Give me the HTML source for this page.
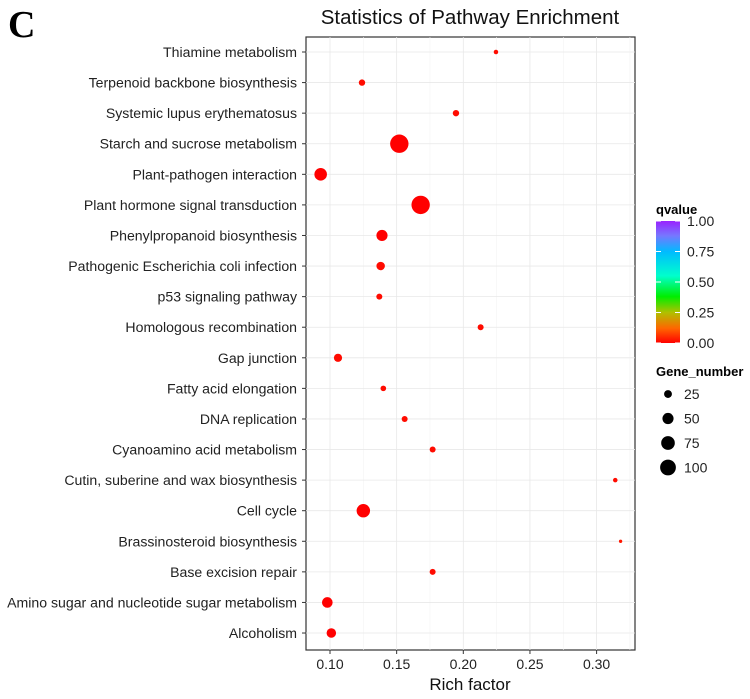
<!DOCTYPE html>
<html><head><meta charset="utf-8"><style>
body{margin:0;background:#fff;}
svg text{font-family:"Liberation Sans",sans-serif;}
</style></head><body>
<svg id="chart" width="750" height="694" xmlns="http://www.w3.org/2000/svg">
<defs>
<linearGradient id="qgrad" x1="0" y1="1" x2="0" y2="0">
<stop offset="0" stop-color="#ff0000"/><stop offset="0.12" stop-color="#ff6600"/><stop offset="0.25" stop-color="#b0c000"/><stop offset="0.38" stop-color="#00ee00"/><stop offset="0.55" stop-color="#00ffcc"/><stop offset="0.75" stop-color="#00bbff"/><stop offset="0.88" stop-color="#7777ff"/><stop offset="1" stop-color="#9922ff"/>
</linearGradient>
</defs>
<text x="8" y="37" font-weight="bold" font-size="38" style="font-family:'Liberation Serif',serif">C</text>
<text x="470" y="24" text-anchor="middle" font-size="20.5" fill="#111">Statistics of Pathway Enrichment</text>
<rect x="306" y="37" width="329" height="613" fill="#fff" stroke="#333" stroke-width="1.2"/>
<g id="grid"></g><g id="points"></g><g id="axes"></g>
<text x="470" y="690" text-anchor="middle" font-size="17" fill="#111">Rich factor</text>
<text x="656" y="214" font-size="13" font-weight="bold">qvalue</text>
<rect x="656" y="221" width="24" height="122" fill="url(#qgrad)"/>
<g id="qleg"></g>
<text x="656" y="376" font-size="13" font-weight="bold">Gene_number</text>
<g id="sleg"></g>
</svg>
<script>
const pathways=["Thiamine metabolism","Terpenoid backbone biosynthesis","Systemic lupus erythematosus","Starch and sucrose metabolism","Plant-pathogen interaction","Plant hormone signal transduction","Phenylpropanoid biosynthesis","Pathogenic Escherichia coli infection","p53 signaling pathway","Homologous recombination","Gap junction","Fatty acid elongation","DNA replication","Cyanoamino acid metabolism","Cutin, suberine and wax biosynthesis","Cell cycle","Brassinosteroid biosynthesis","Base excision repair","Amino sugar and nucleotide sugar metabolism","Alcoholism"];
const richFactor=[0.2245,0.124,0.1945,0.152,0.093,0.168,0.139,0.138,0.137,0.213,0.106,0.140,0.156,0.177,0.314,0.125,0.318,0.177,0.098,0.101];
const geneNumber=[9,18,18,150,70,150,55,32,16,16,30,14,16,16,9,80,5,16,50,40];
const qvalue=[0.01,0.01,0.01,0,0,0,0,0.01,0.01,0.01,0.01,0.01,0.01,0.01,0.01,0,0.02,0.01,0,0];
const xTicks=[0.10,0.15,0.20,0.25,0.30];
const qTicks=[0,0.25,0.5,0.75,1];
const sizeTicks=[25,50,75,100];
const NS="http://www.w3.org/2000/svg";
const X=v=>330+(v-0.10)*1333;
const Y=i=>52+i*30.58;
const R=n=>0.75*Math.sqrt(n);
function qColor(q){const h=Math.min(q,1)*270;return `hsl(${h},100%,50%)`;}
function mk(t,a,p){const e=document.createElementNS(NS,t);for(const k in a)e.setAttribute(k,a[k]);p.appendChild(e);return e;}
const grid=document.getElementById('grid'),pts=document.getElementById('points'),ax=document.getElementById('axes');
for(let i=0;i<xTicks.length-1;i++){const m=(xTicks[i]+xTicks[i+1])/2;const l=mk('line',{x1:X(m),x2:X(m),y1:37,y2:650,stroke:'#f3f3f3','stroke-width':0.6},grid);}
mk('line',{x1:X(0.325),x2:X(0.325),y1:37,y2:650,stroke:'#f3f3f3','stroke-width':0.6},grid);
xTicks.forEach(t=>{const l=mk('line',{x1:X(t),x2:X(t),y1:37,y2:650,stroke:'#e8e8e8','stroke-width':0.8},grid);
const tk=mk('line',{x1:X(t),x2:X(t),y1:650,y2:654,stroke:'#333'},ax);
const tx=mk('text',{x:X(t),y:669,'text-anchor':'middle','font-size':14,fill:'#222'},ax);tx.textContent=t.toFixed(2);});
pathways.forEach((p,i)=>{const l=mk('line',{x1:306,x2:635,y1:Y(i),y2:Y(i),stroke:'#e8e8e8','stroke-width':0.8},grid);
const tk=mk('line',{x1:302,x2:306,y1:Y(i),y2:Y(i),stroke:'#333'},ax);
const tx=mk('text',{x:297,y:Y(i)+5,'text-anchor':'end','font-size':14.1,fill:'#222'},ax);tx.textContent=p;
const c=mk('circle',{cx:X(richFactor[i]),cy:Y(i),r:R(geneNumber[i]),fill:qColor(qvalue[i])},pts);});
const qleg=document.getElementById('qleg');
qTicks.forEach(q=>{const y=343-q*122;mk('line',{x1:656,x2:661,y1:y,y2:y,stroke:'#fff'},qleg);mk('line',{x1:675,x2:680,y1:y,y2:y,stroke:'#fff'},qleg);
const t=mk('text',{x:687,y:y+5,'font-size':14,fill:'#222'},qleg);t.textContent=q.toFixed(2);});
const sleg=document.getElementById('sleg');
sizeTicks.forEach((s,i)=>{const y=394+i*24.5;const c=mk('circle',{cx:668,cy:y,r:R(s)*1.05,fill:'#000'},sleg);
const t=mk('text',{x:684,y:y+5,'font-size':14,fill:'#222'},sleg);t.textContent=s;});
</script>
</body></html>
